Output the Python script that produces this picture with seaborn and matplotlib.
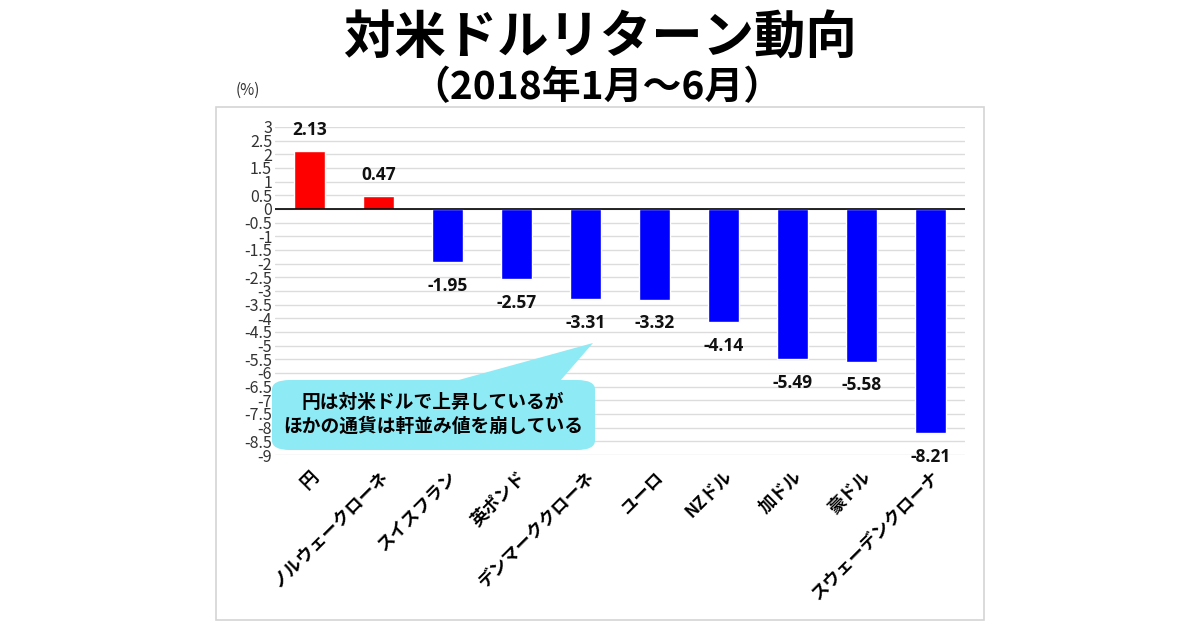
import matplotlib
matplotlib.use("Agg")
import matplotlib.pyplot as plt
from matplotlib.patches import FancyBboxPatch, Polygon, Rectangle
import numpy as np
import pandas as pd
import seaborn as sns

# Data
currencies = ["円", "ノルウェークローネ", "スイスフラン", "英ポンド", "デンマーククローネ",
              "ユーロ", "NZドル", "加ドル", "豪ドル", "スウェーデンクローナ"]
returns = [2.13, 0.47, -1.95, -2.57, -3.31, -3.32, -4.14, -5.49, -5.58, -8.21]
y_ticks = np.arange(-9, 3.01, 0.5)

title = "対米ドルリターン動向"
subtitle = "（2018年1月～6月）"
note = "円は対米ドルで上昇しているが\nほかの通貨は軒並み値を崩している"

df = pd.DataFrame({"currency": currencies, "ret": returns})
df["sign"] = np.where(df["ret"] >= 0, "up", "down")

sns.set_theme(style="white")
plt.rcParams["font.family"] = ["Noto Sans CJK JP", "DejaVu Sans"]
plt.rcParams["text.color"] = "black"

fig = plt.figure(figsize=(12, 6.3), dpi=100)

# light outer frame
fig.patches.append(Rectangle((216 / 1200, 1 - 620 / 630), (984 - 216) / 1200, (620 - 107) / 630,
                             transform=fig.transFigure, fill=False, edgecolor="#d4d4d4", linewidth=1.2))

ax = fig.add_axes([275 / 1200, 1 - 455 / 630, 690 / 1200, 328 / 630])
sns.barplot(data=df, x="currency", y="ret", hue="sign",
            palette={"up": "#ff0000", "down": "#0000ff"},
            width=0.44, legend=False, ax=ax, saturation=1)

ax.set_ylim(-9, 3)
ax.set_xlim(-0.5, 9.5)
ax.set_yticks(y_ticks)
ax.set_yticklabels([f"{t:g}" for t in y_ticks], fontsize=11.5, color="#333333")
ax.yaxis.grid(True, color="#dcdcdc", linewidth=1)
ax.set_axisbelow(True)
ax.axhline(0, color="black", linewidth=1.2, zorder=3)
for s in ax.spines.values():
    s.set_visible(False)
ax.tick_params(axis="both", length=0)
ax.tick_params(axis="y", pad=2)
ax.set_xlabel("")
ax.set_ylabel("")

ax.set_xticks(range(len(currencies)))
ax.set_xticklabels(currencies, rotation=45, ha="right", va="top",
                   rotation_mode="anchor", fontsize=12.5, fontweight="bold", color="black")
ax.tick_params(axis="x", pad=9)

for i, v in enumerate(returns):
    off = 15 if v >= 0 else -17
    ax.annotate(f"{v:.2f}", (i, v), xytext=(0, off), textcoords="offset points",
                ha="center", va="center", fontsize=12.5, fontweight="bold",
                color="#111111", family=["Open Sans", "DejaVu Sans"])

# callout in pixel-based figure coords
def fpt(x, y):
    return (x / 1200, 1 - y / 630)

bx0, by0 = fpt(272, 450)
bx1, by1 = fpt(595, 380)
callout_color = "#8eeaf5"
fig.patches.append(FancyBboxPatch((bx0, by0), bx1 - bx0, by1 - by0,
                                  boxstyle="round,pad=0,rounding_size=0.015",
                                  transform=fig.transFigure, facecolor=callout_color,
                                  edgecolor="none", zorder=5))
fig.patches.append(Polygon([fpt(455, 381), fpt(593, 343), fpt(560, 381)], closed=True,
                           transform=fig.transFigure, facecolor=callout_color,
                           edgecolor="none", zorder=5))
fig.text(433 / 1200, 1 - 414 / 630, note, ha="center", va="center", fontsize=13.5,
         fontweight="bold", linespacing=1.3, zorder=6)

fig.text(0.5, 1 - 38 / 630, title, ha="center", va="center", fontsize=37, fontweight="bold")
fig.text(0.497, 1 - 88 / 630, subtitle, ha="center", va="center", fontsize=28, fontweight="bold")
fig.text(248 / 1200, 1 - 90 / 630, "(%)", ha="center", va="center", fontsize=11, color="#333333")

fig.savefig("out.png", dpi=100)
